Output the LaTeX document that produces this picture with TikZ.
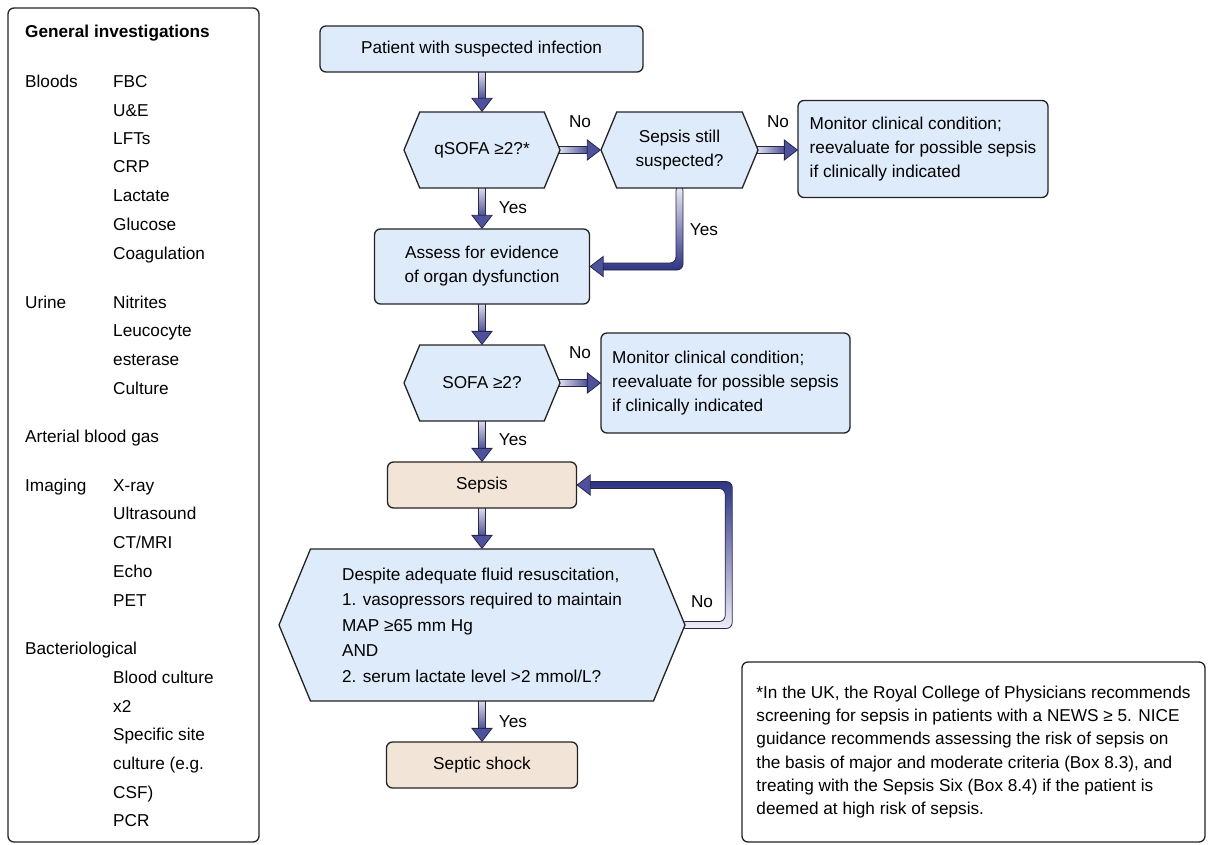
\documentclass[tikz,border=0pt]{standalone}
\usepackage{fontspec}
\setmainfont{Liberation Sans}
\usetikzlibrary{calc,positioning,shapes.symbols}
\definecolor{boxblue}{RGB}{222,235,250}
\definecolor{boxpeach}{RGB}{243,228,216}
\definecolor{edge}{RGB}{35,35,35}
\definecolor{arrlight}{RGB}{238,238,248}
\definecolor{arrdark}{RGB}{46,52,130}
\definecolor{arrtip}{RGB}{78,82,156}
\definecolor{arrline}{RGB}{38,38,72}
\pgfdeclarelayer{bg}
\pgfsetlayers{bg,main}
\newcommand{\flowfont}{\fontsize{17.2}{24}\selectfont}
\newcommand{\bigfont}{\fontsize{17.2}{25.5}\selectfont}
\newcommand{\notefont}{\fontsize{17.2}{23.3}\selectfont}
\tikzset{
  lab/.style={font=\flowfont,inner sep=0pt},
  panel/.style={rectangle,rounded corners=6pt,draw=edge,line width=1.3pt,
    fill=white},
  flowbox/.style={rectangle,rounded corners=6pt,draw=edge,line width=1.3pt,
    fill=boxblue,align=center,font=\flowfont},
  endbox/.style={flowbox,fill=boxpeach},
  monbox/.style={flowbox,align=left,inner xsep=10pt},
  hexbox/.style={signal,signal to=east and west,signal pointer angle=135,
    draw=edge,line width=1.3pt,fill=boxblue,align=center,inner sep=2pt,
    font=\flowfont},
  % gradient arrows: pale at the tail, navy at the head
  shaftdown/.style={top color=arrlight,bottom color=arrdark,draw=arrline,
    line width=0.8pt},
  shaftup/.style={top color=arrdark,bottom color=arrlight,draw=arrline,
    line width=0.8pt},
  shaftright/.style={left color=arrlight,right color=arrdark,draw=arrline,
    line width=0.8pt},
  tiphead/.style={fill=arrtip,draw=arrline,line width=0.8pt}
}
\newcommand{\downarr}[2]{%
  \shadedraw[shaftdown] ($#1+(-3.5,-4)$) rectangle ($#2+(3.5,-7)$);
  \filldraw[tiphead] ($#2+(-10,-13)$) -- #2 -- ($#2+(10,-13)$) -- cycle;}
\newcommand{\rightarr}[2]{%
  \shadedraw[shaftright] ($#1+(-4,-3.5)$) rectangle ($#2+(-7,3.5)$);
  \filldraw[tiphead] ($#2+(-13,-10)$) -- #2 -- ($#2+(-13,10)$) -- cycle;}

\begin{document}
\begin{tikzpicture}[x=1pt,y=-1pt]
  \useasboundingbox (0,0) rectangle (1210,845);

  % left panel
  \node[panel,minimum width=251,minimum height=834] (invbox) at (133.5,425) {};
  \node[lab,anchor=base west,font=\flowfont\bfseries] (invtitle) at (25,38)
    {General investigations};
  \foreach \entry/\yy in {Bloods/82,Urine/302,Arterial blood gas/436,
      Imaging/485,Bacteriological/648}
    \node[lab,anchor=base west] (inv\yy) at (25,\yy+6) {\entry};
  \foreach \entry/\yy in {FBC/82,U\&E/111,LFTs/139,CRP/167,Lactate/196,
      Glucose/224,Coagulation/253,Nitrites/302,Leucocyte/330,esterase/359,
      Culture/388,X-ray/485,Ultrasound/513,{CT/MRI}/542,Echo/571,PET/600,
      Blood culture/677,x2/706,Specific site/734,culture (e.g./763,
      CSF)/792,PCR/820}
    \node[lab,anchor=base west] (test\yy) at (113,\yy+6) {\entry};

  % flow chart
  \node[flowbox,minimum width=323,minimum height=46] (patient) at (481.5,49)
    {Patient with suspected infection};
  \node[hexbox,minimum width=156,minimum height=76] (qsofa) at (482,150)
    {qSOFA ≥2?*};
  \node[hexbox,minimum width=157,minimum height=76] (stillsus) at (679.5,150)
    {Sepsis still\\suspected?};
  \node[monbox,minimum width=250,minimum height=97] (mon1) at (923,149)
    {Monitor clinical condition;\\reevaluate for possible sepsis\\if clinically indicated};
  \node[flowbox,minimum width=215,minimum height=75] (assess) at (482,266.5)
    {Assess for evidence\\of organ dysfunction};
  \node[hexbox,minimum width=156,minimum height=76] (sofa) at (482,383)
    {SOFA ≥2?};
  \node[monbox,minimum width=249,minimum height=100] (mon2) at (725.5,383)
    {Monitor clinical condition;\\reevaluate for possible sepsis\\if clinically indicated};
  \node[endbox,minimum width=189,minimum height=46] (sepsis) at (482,485)
    {Sepsis};
  \node[hexbox,minimum width=406,minimum height=152,align=left,font=\bigfont]
    (shockq) at (482,625)
    {Despite adequate fluid resuscitation,\\1. vasopressors required to maintain\\
     MAP ≥65 mm Hg\\AND\\2. serum lactate level >2 mmol/L?};
  \node[endbox,minimum width=191,minimum height=46] (shock) at (482,765)
    {Septic shock};

  % footnote
  \node[panel,minimum width=463,minimum height=180,align=left,
    font=\notefont] (note) at (973.5,752)
    {*In the UK, the Royal College of Physicians recommends\\
     screening for sepsis in patients with a NEWS ≥ 5. NICE\\
     guidance recommends assessing the risk of sepsis on\\
     the basis of major and moderate criteria (Box 8.3), and\\
     treating with the Sepsis Six (Box 8.4) if the patient is\\
     deemed at high risk of sepsis.};

  % labels
  \node[lab] (no1) at (580,122) {No};
  \node[lab] (no2) at (778,122) {No};
  \node[lab] (yes1) at (513,208) {Yes};
  \node[lab] (yes2) at (704,230) {Yes};
  \node[lab] (no3) at (580,353) {No};
  \node[lab] (yes3) at (513,440) {Yes};
  \node[lab] (no4) at (702,602) {No};
  \node[lab] (yes4) at (513,722) {Yes};

  % connectors
  \coordinate (m1in) at (mon1.west |- stillsus.east);
  \coordinate (m2in) at (mon2.west |- sofa.east);
  \coordinate (ybend) at (stillsus.south |- assess.east);
  \coordinate (nlow) at ($(shockq.east)+(43,0)$);
  \coordinate (nup) at (nlow |- sepsis.east);
  \begin{pgfonlayer}{bg}
    \downarr{(patient.south)}{(qsofa.north)}
    \rightarr{(qsofa.east)}{(stillsus.west)}
    \rightarr{(stillsus.east)}{(m1in)}
    \downarr{(qsofa.south)}{(assess.north)}
    \downarr{(assess.south)}{(sofa.north)}
    \rightarr{(sofa.east)}{(m2in)}
    \downarr{(sofa.south)}{(sepsis.north)}
    \downarr{(sepsis.south)}{(shockq.north)}
    \downarr{(shockq.south)}{(shock.north)}
    % Yes: still suspected -> assess
    \shadedraw[shaftdown,rounded corners=6pt]
      ($(stillsus.south)+(-3.5,-4)$) -- ($(ybend)+(-3.5,-3.5)$)
      -- ($(assess.east)+(7,-3.5)$) -- ($(assess.east)+(7,3.5)$)
      -- ($(ybend)+(3.5,3.5)$) -- ($(stillsus.south)+(3.5,-4)$) -- cycle;
    \filldraw[tiphead] ($(assess.east)+(13,-10)$) -- (assess.east)
      -- ($(assess.east)+(13,10)$) -- cycle;
    % No: back to sepsis
    \shadedraw[shaftup,rounded corners=6pt]
      ($(shockq.east)+(-6,-3.5)$) -- ($(nlow)+(-3.5,-3.5)$)
      -- ($(nup)+(-3.5,3.5)$) -- ($(sepsis.east)+(7,3.5)$)
      -- ($(sepsis.east)+(7,-3.5)$) -- ($(nup)+(3.5,-3.5)$)
      -- ($(nlow)+(3.5,3.5)$) -- ($(shockq.east)+(-6,3.5)$) -- cycle;
    \filldraw[tiphead] ($(sepsis.east)+(13,-10)$) -- (sepsis.east)
      -- ($(sepsis.east)+(13,10)$) -- cycle;
  \end{pgfonlayer}
\end{tikzpicture}
\end{document}
